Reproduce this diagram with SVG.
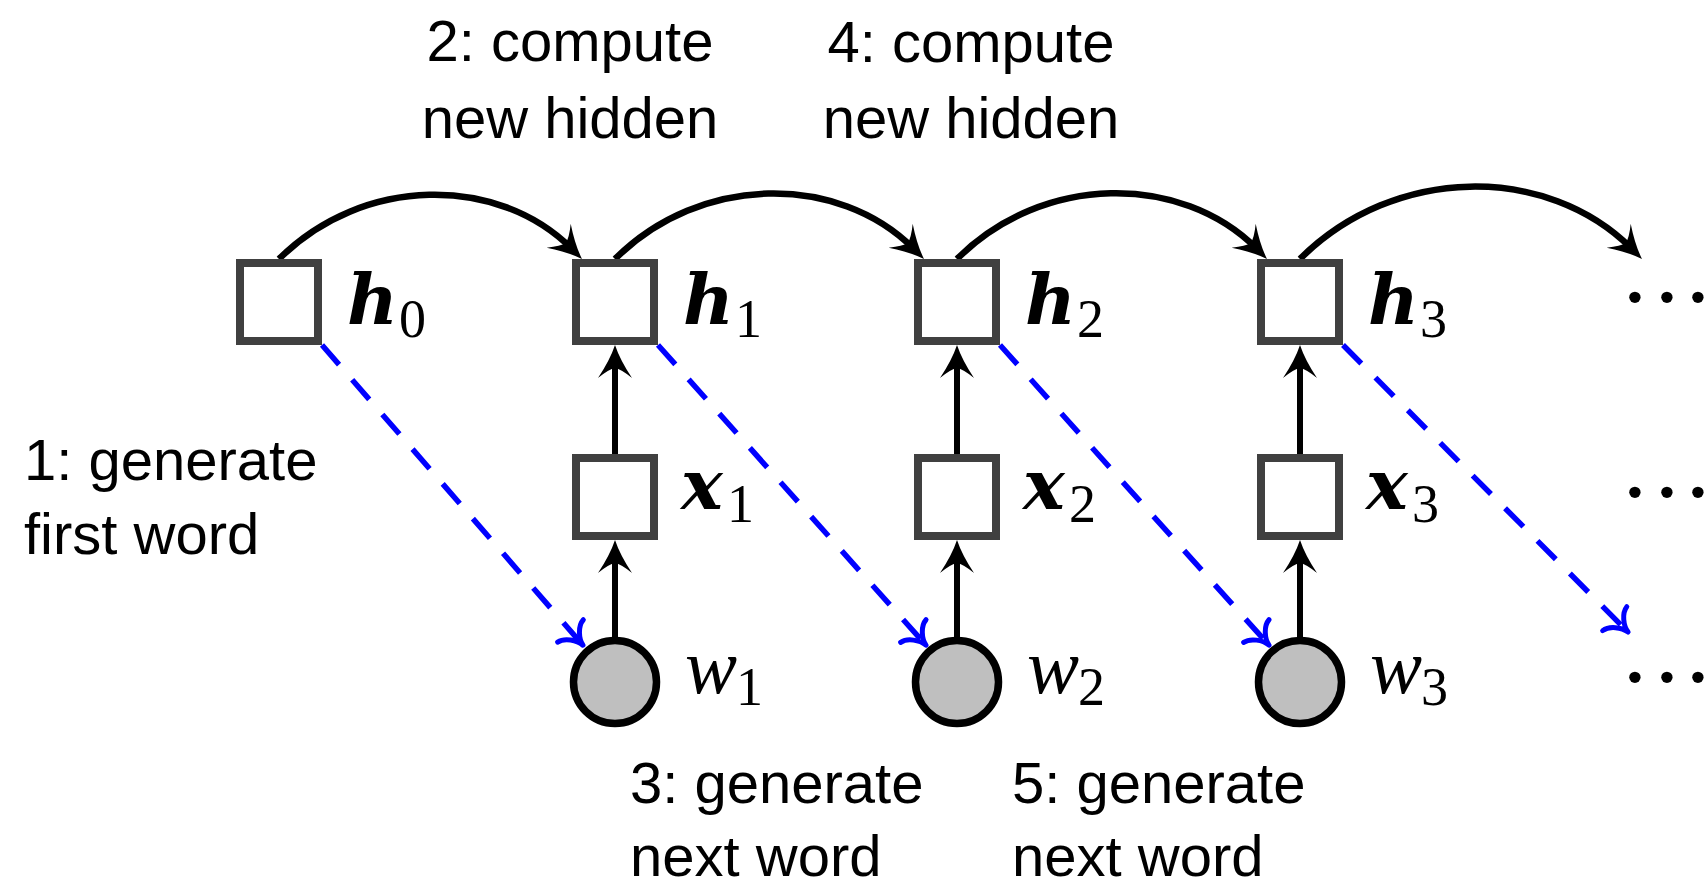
<svg xmlns="http://www.w3.org/2000/svg" width="1708" height="890" viewBox="0 0 1708 890">
<style>
.box{fill:#fff;stroke:#404040;stroke-width:8}
.word{fill:#bfbfbf;stroke:#000;stroke-width:7.5}
.m{font-family:"Liberation Serif","DejaVu Serif",serif;font-size:78px;fill:#000}
.bi{font-family:"DejaVu Serif",serif;font-size:70px;font-weight:bold;font-style:italic}
.it{font-style:italic}
.sub{font-family:"Liberation Serif",serif;font-size:54px;font-style:normal;font-weight:normal}
.t{font-family:"Liberation Sans",Arial,sans-serif;font-size:58px;fill:#000}
.arc{fill:none;stroke:#000;stroke-width:6.5;marker-end:url(#ah)}
.up{fill:none;stroke:#000;stroke-width:6;marker-end:url(#ah)}
.gen{fill:none;stroke:#0000ff;stroke-width:5.5;stroke-dasharray:26 20;marker-end:url(#to)}
.dots{font-family:"Liberation Serif",serif;font-size:70px;font-weight:bold;fill:#000}
</style>
<defs>
<marker id="ah" markerUnits="userSpaceOnUse" orient="auto" refX="0" refY="0" markerWidth="40" markerHeight="40" overflow="visible">
<path d="M15,0 Q0,-5 -18,-17 Q-9,-6 -8,0 Q-9,6 -18,17 Q0,5 15,0 Z" fill="#000"/>
</marker>
<marker id="to" markerUnits="userSpaceOnUse" orient="auto" refX="0" refY="0" markerWidth="40" markerHeight="40" overflow="visible">
<path d="M-16,-17 C-15,-9 -5,-1 3,0 C-5,1 -15,9 -16,17" fill="none" stroke="#0000ff" stroke-width="5" stroke-linecap="round" stroke-linejoin="round"/>
</marker>
</defs>
<rect width="1708" height="890" fill="#fff"/>

<g id="connectors">
<path class="arc" d="M279,259 C362.9,175.1 498.1,175.1 571.4,248.4"/>
<path class="arc" d="M615,259 C700.5,173.5 838.5,173.5 913.4,248.4"/>
<path class="arc" d="M957,259 C1042.8,173.2 1181.2,173.2 1256.4,248.4"/>
<path class="arc" d="M1300,259 C1394.7,164.3 1547.3,164.3 1631.4,248.4"/>
<line class="up" x1="615" y1="455" x2="615" y2="360"/>
<line class="up" x1="957" y1="455" x2="957" y2="360"/>
<line class="up" x1="1300" y1="455" x2="1300" y2="360"/>
<line class="up" x1="615" y1="637" x2="615" y2="555"/>
<line class="up" x1="957" y1="637" x2="957" y2="555"/>
<line class="up" x1="1300" y1="637" x2="1300" y2="555"/>
<line class="gen" x1="322" y1="345" x2="581" y2="643"/>
<line class="gen" x1="658" y1="345" x2="924" y2="643"/>
<line class="gen" x1="1000" y1="345" x2="1267" y2="643"/>
<line class="gen" x1="1343" y1="345" x2="1626" y2="630"/>
</g>

<g id="h0"><rect class="box" x="240" y="263" width="78" height="78"/>
<text class="m" x="347" y="324"><tspan class="bi">h</tspan><tspan class="sub" x="399" y="337">0</tspan></text></g>
<g id="h1"><rect class="box" x="576" y="263" width="78" height="78"/>
<text class="m" x="683" y="324"><tspan class="bi">h</tspan><tspan class="sub" x="735" y="337">1</tspan></text></g>
<g id="h2"><rect class="box" x="918" y="263" width="78" height="78"/>
<text class="m" x="1025" y="324"><tspan class="bi">h</tspan><tspan class="sub" x="1077" y="337">2</tspan></text></g>
<g id="h3"><rect class="box" x="1261" y="263" width="78" height="78"/>
<text class="m" x="1368" y="324"><tspan class="bi">h</tspan><tspan class="sub" x="1420" y="337">3</tspan></text></g>

<g id="x1"><rect class="box" x="576" y="458" width="78" height="78"/>
<text class="m" x="681" y="509"><tspan class="bi">x</tspan><tspan class="sub" x="727" y="522">1</tspan></text></g>
<g id="x2"><rect class="box" x="918" y="458" width="78" height="78"/>
<text class="m" x="1023" y="509"><tspan class="bi">x</tspan><tspan class="sub" x="1069" y="522">2</tspan></text></g>
<g id="x3"><rect class="box" x="1261" y="458" width="78" height="78"/>
<text class="m" x="1366" y="509"><tspan class="bi">x</tspan><tspan class="sub" x="1412" y="522">3</tspan></text></g>

<g id="w1"><circle class="word" cx="615" cy="682" r="41.5"/>
<text class="m" x="685" y="693"><tspan class="it">w</tspan><tspan class="sub" x="736" y="705">1</tspan></text></g>
<g id="w2"><circle class="word" cx="957" cy="682" r="41.5"/>
<text class="m" x="1027" y="693"><tspan class="it">w</tspan><tspan class="sub" x="1078" y="705">2</tspan></text></g>
<g id="w3"><circle class="word" cx="1300" cy="682" r="41.5"/>
<text class="m" x="1370" y="693"><tspan class="it">w</tspan><tspan class="sub" x="1421" y="705">3</tspan></text></g>

<g id="dots">
<text class="dots" x="1635 1667 1698" y="320" text-anchor="middle">···</text>
<text class="dots" x="1635 1667 1698" y="515" text-anchor="middle">···</text>
<text class="dots" x="1635 1667 1698" y="700" text-anchor="middle">···</text>
</g>

<g id="labels">
<text class="t" text-anchor="middle"><tspan x="570" y="61">2: compute</tspan><tspan x="570" y="138">new hidden</tspan></text>
<text class="t" text-anchor="middle"><tspan x="971" y="62">4: compute</tspan><tspan x="971" y="138">new hidden</tspan></text>
<text class="t"><tspan x="24" y="480">1: generate</tspan><tspan x="24" y="554">first word</tspan></text>
<text class="t"><tspan x="630" y="803">3: generate</tspan><tspan x="630" y="876">next word</tspan></text>
<text class="t"><tspan x="1012" y="803">5: generate</tspan><tspan x="1012" y="876">next word</tspan></text>
</g>
</svg>
